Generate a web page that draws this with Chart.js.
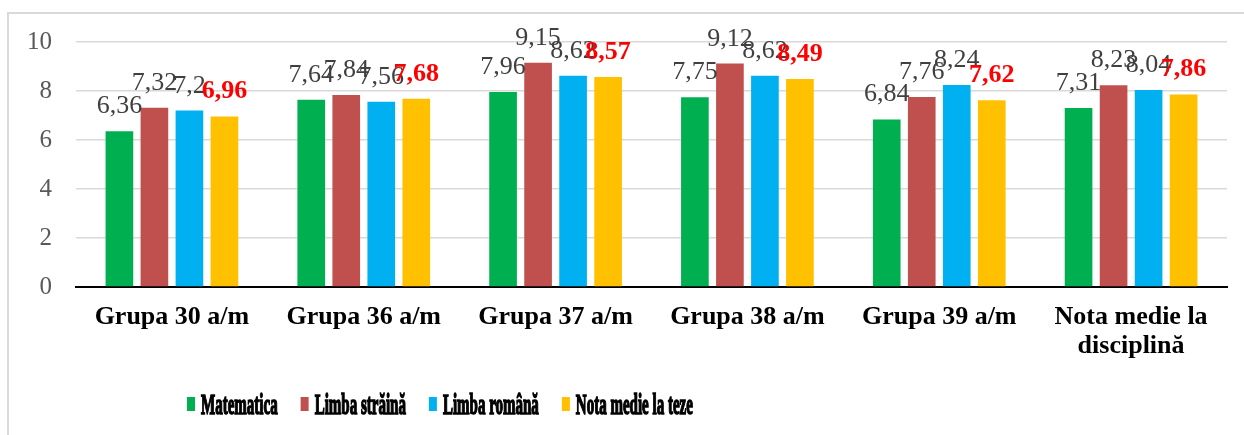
<!DOCTYPE html>
<html>
<head>
<meta charset="utf-8">
<script src="https://cdn.jsdelivr.net/npm/chart.js@4.4.1/dist/chart.umd.min.js"></script>
<style>
  html, body { margin: 0; padding: 0; background: #fff; }
  #wrap { position: relative; width: 1244px; height: 435px; }
</style>
</head>
<body>
<div id="wrap"><canvas id="chart" width="1244" height="435"></canvas></div>
<script>
// categories and series
const groups = ["Grupa 30 a/m", "Grupa 36 a/m", "Grupa 37 a/m", "Grupa 38 a/m", "Grupa 39 a/m", ["Nota medie la", "disciplină"]];
const matematica = [6.36, 7.64, 7.96, 7.75, 6.84, 7.31];
const limbaStraina = [7.32, 7.84, 9.15, 9.12, 7.76, 8.23];
const limbaRomana = [7.2, 7.56, 8.62, 8.62, 8.24, 8.04];
const notaTeze = [6.96, 7.68, 8.57, 8.49, 7.62, 7.86];
const yTicks = [0, 2, 4, 6, 8, 10];

const serif = "'Liberation Serif', 'Times New Roman', serif";

// value labels above each bar (Excel style, decimal comma)
const valueLabels = {
  id: "valueLabels",
  afterDatasetsDraw(chart) {
    const ctx = chart.ctx;
    chart.data.datasets.forEach((ds, i) => {
      const meta = chart.getDatasetMeta(i);
      ctx.save();
      ctx.font = (ds.labelBold ? "bold " : "") + "26px " + serif;
      ctx.fillStyle = ds.labelColor;
      ctx.textAlign = "center";
      ctx.textBaseline = "alphabetic";
      meta.data.forEach((bar, j) => {
        ctx.fillText(String(ds.data[j]).replace(".", ","), bar.x, bar.y - 18);
      });
      ctx.restore();
    });
  }
};

// narrow legend under the chart plus the light frame of the picture
const squeezedLegend = {
  id: "squeezedLegend",
  afterDraw(chart) {
    const ctx = chart.ctx;
    ctx.save();
    ctx.strokeStyle = "#d9d9d9";
    ctx.lineWidth = 2;
    ctx.beginPath();
    ctx.moveTo(8, 435);
    ctx.lineTo(8, 13);
    ctx.lineTo(1244, 13);
    ctx.stroke();

    let x = 187;
    const squeeze = 0.5;
    ctx.font = "bold 30px " + serif;
    ctx.textBaseline = "alphabetic";
    chart.data.datasets.forEach(ds => {
      ctx.fillStyle = ds.backgroundColor;
      ctx.fillRect(x, 397, 8, 14);
      x += 14;
      ctx.save();
      ctx.translate(x, 414);
      ctx.scale(squeeze, 1);
      ctx.fillStyle = "#000";
      ctx.strokeStyle = "#000";
      ctx.lineWidth = 1.6;
      ctx.fillText(ds.label, 0, 0);
      ctx.strokeText(ds.label, 0, 0);
      ctx.restore();
      x += ctx.measureText(ds.label).width * squeeze + 23;
    });
    ctx.restore();
  }
};

new Chart(document.getElementById("chart"), {
  type: "bar",
  data: {
    labels: groups,
    datasets: [
      { label: "Matematica", data: matematica, backgroundColor: "#00B050", labelColor: "#404040" },
      { label: "Limba străină", data: limbaStraina, backgroundColor: "#C0504D", labelColor: "#404040" },
      { label: "Limba română", data: limbaRomana, backgroundColor: "#00B0F0", labelColor: "#404040" },
      { label: "Nota medie la teze", data: notaTeze, backgroundColor: "#FFC000", labelColor: "#FF0000", labelBold: true }
    ]
  },
  options: {
    responsive: false,
    animation: false,
    devicePixelRatio: 1,
    layout: { padding: { top: 42, right: 17, bottom: 0, left: 0 } },
    datasets: { bar: { categoryPercentage: 0.73, barPercentage: 0.79, borderWidth: 0 } },
    plugins: { legend: { display: false }, tooltip: { enabled: false } },
    scales: {
      x: {
        grid: { display: false, drawTicks: false },
        border: { color: "#000", width: 2 },
        ticks: {
          color: "#000",
          padding: 16,
          maxRotation: 0,
          autoSkip: false,
          font: { family: serif, size: 26, weight: "bold", lineHeight: 1.12 }
        },
        afterFit(scale) { scale.height = 148; }
      },
      y: {
        min: 0,
        max: 10,
        afterBuildTicks(scale) { scale.ticks = yTicks.map(v => ({ value: v })); },
        grid: { color: "#d9d9d9", lineWidth: 1.5, drawTicks: false },
        border: { display: false },
        ticks: {
          color: "#595959",
          padding: 24,
          font: { family: serif, size: 25 }
        },
        afterFit(scale) { scale.width = 76; }
      }
    }
  },
  plugins: [valueLabels, squeezedLegend]
});
</script>
</body>
</html>
